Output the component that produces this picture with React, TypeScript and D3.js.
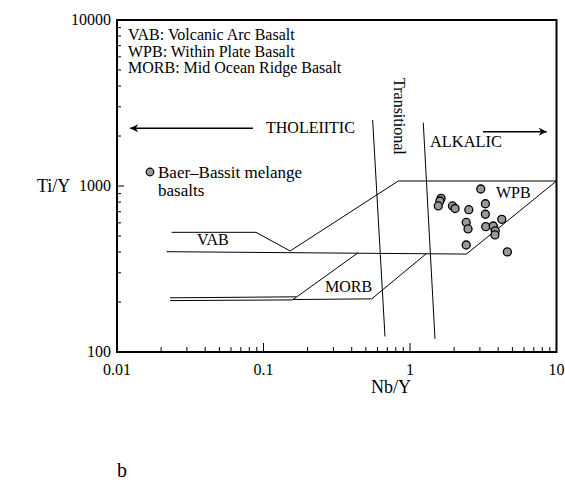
import { useEffect, useRef } from 'react'
import * as d3 from 'd3'

// Baer-Bassit melange basalts, Nb/Y vs Ti/Y
const NB_Y = [3.04, 1.63, 1.60, 1.56, 1.95, 2.03, 2.52, 3.27, 3.27, 2.42, 2.49, 3.29, 3.70, 4.23, 3.82, 3.80, 2.42, 4.62]
const TI_Y = [959, 843, 812, 758, 758, 732, 720, 782, 676, 603, 551, 569, 574, 630, 537, 507, 441, 401]

// field boundaries (Nb/Y, Ti/Y)
const VAB_UPPER: [number, number][] = [[0.0236, 526], [0.0889, 526], [0.152, 406], [0.832, 1072], [10, 1072], [2.43, 389]]
const VAB_LOWER: [number, number][] = [[0.0218, 402], [2.43, 389]]
const MORB_FIELD: [number, number][] = [[0.442, 396], [0.159, 207], [0.548, 209], [1.30, 393]]
const MORB_BASE_A: [number, number][] = [[0.023, 212], [0.167, 215]]
const MORB_BASE_B: [number, number][] = [[0.023, 204], [0.159, 206]]
const TRANS_LEFT: [number, number][] = [[0.556, 2498], [0.675, 124]]
const TRANS_RIGHT: [number, number][] = [[1.232, 2406], [1.481, 120]]

const X_TICKS = [0.01, 0.1, 1, 10]
const Y_TICKS = [100, 1000, 10000]
const KEY_LINES = ['VAB: Volcanic Arc Basalt', 'WPB: Within Plate Basalt', 'MORB: Mid Ocean Ridge Basalt']

export default function App() {
  const svgRef = useRef<SVGSVGElement>(null)

  useEffect(() => {
    if (!svgRef.current) return
    const svg = d3.select(svgRef.current)
    svg.selectAll('*').remove()

    const left = 117, right = 556.5, top = 20, bottom = 352
    const font = '"Liberation Serif", "Times New Roman", serif'

    const x = d3.scaleLog().domain([0.01, 10]).range([left, right])
    const y = d3.scaleLog().domain([100, 10000]).range([bottom, top])

    svg.append('defs').append('marker')
      .attr('id', 'head')
      .attr('viewBox', '0 0 10 10')
      .attr('refX', 10).attr('refY', 5)
      .attr('markerWidth', 13).attr('markerHeight', 8)
      .attr('markerUnits', 'userSpaceOnUse')
      .attr('orient', 'auto')
      .append('path').attr('d', 'M0,0 L10,5 L0,10 L3,5 Z').attr('fill', '#000')

    const g = svg.append('g')

    // minor ticks
    const xMinor: number[] = []
    const yMinor: number[] = []
    for (let e = -2; e < 1; e++) for (let m = 2; m <= 9; m++) xMinor.push(m * Math.pow(10, e))
    for (let e = 2; e < 4; e++) for (let m = 2; m <= 9; m++) yMinor.push(m * Math.pow(10, e))

    g.selectAll('.xminor').data(xMinor).enter().append('line')
      .attr('x1', (d) => x(d)).attr('x2', (d) => x(d))
      .attr('y1', bottom).attr('y2', bottom - 5)
      .attr('stroke', '#000').attr('stroke-width', 1)
    g.selectAll('.xmajor').data(X_TICKS).enter().append('line')
      .attr('x1', (d) => x(d)).attr('x2', (d) => x(d))
      .attr('y1', bottom).attr('y2', bottom - 9)
      .attr('stroke', '#000').attr('stroke-width', 1)
    g.selectAll('.yminor').data(yMinor).enter().append('line')
      .attr('x1', left).attr('x2', left + 4)
      .attr('y1', (d) => y(d)).attr('y2', (d) => y(d))
      .attr('stroke', '#000').attr('stroke-width', 1)
    g.selectAll('.ymajor').data(Y_TICKS).enter().append('line')
      .attr('x1', left).attr('x2', left + 7)
      .attr('y1', (d) => y(d)).attr('y2', (d) => y(d))
      .attr('stroke', '#000').attr('stroke-width', 1)

    // tick labels
    g.selectAll('.xlab').data(X_TICKS).enter().append('text')
      .attr('x', (d) => x(d)).attr('y', 375)
      .attr('text-anchor', 'middle')
      .attr('font-family', font).attr('font-size', 16)
      .text((d) => String(d))
    g.selectAll('.ylab').data(Y_TICKS).enter().append('text')
      .attr('x', left - 6).attr('y', (d) => y(d) + 5)
      .attr('text-anchor', 'end')
      .attr('font-family', font).attr('font-size', 16)
      .text((d) => String(d))

    // frame
    g.append('rect')
      .attr('x', left).attr('y', top)
      .attr('width', right - left).attr('height', bottom - top)
      .attr('fill', 'none').attr('stroke', '#000').attr('stroke-width', 2)

    // field lines
    const line = d3.line<[number, number]>().x((d) => x(d[0])).y((d) => y(d[1]))
    const paths = [VAB_UPPER, VAB_LOWER, MORB_FIELD, MORB_BASE_A, MORB_BASE_B, TRANS_LEFT, TRANS_RIGHT]
    g.selectAll('.field').data(paths).enter().append('path')
      .attr('d', (d) => line(d))
      .attr('fill', 'none').attr('stroke', '#000').attr('stroke-width', 1)

    // arrows
    g.append('line')
      .attr('x1', x(0.0848)).attr('x2', x(0.0123))
      .attr('y1', y(2226)).attr('y2', y(2226))
      .attr('stroke', '#000').attr('stroke-width', 1.5)
      .attr('marker-end', 'url(#head)')
    g.append('line')
      .attr('x1', x(3.15)).attr('x2', x(8.57))
      .attr('y1', y(2124)).attr('y2', y(2124))
      .attr('stroke', '#000').attr('stroke-width', 1.5)
      .attr('marker-end', 'url(#head)')

    const label = (tx: number, ty: number, t: string, size = 16) =>
      g.append('text').attr('x', tx).attr('y', ty)
        .attr('font-family', font).attr('font-size', size).text(t)

    KEY_LINES.forEach((t, i) => label(128, 40 + i * 16.5, t, 16))
    label(266, 133, 'THOLEIITIC')
    label(430, 147, 'ALKALIC', 16.4)
    label(197, 245, 'VAB')
    label(325, 292, 'MORB')
    label(496, 198, 'WPB')
    label(158, 178, 'Baer–Bassit melange', 17)
    label(158, 196, 'basalts', 17)
    g.append('text')
      .attr('transform', 'translate(394,78) rotate(90)')
      .attr('font-family', font).attr('font-size', 16)
      .text('Transitional')

    // legend marker
    g.append('circle')
      .attr('cx', 150).attr('cy', 172).attr('r', 3.8)
      .attr('fill', '#999').attr('stroke', '#000').attr('stroke-width', 1.2)

    // data points
    g.selectAll('.pt').data(NB_Y.map((v, i) => [v, TI_Y[i]])).enter().append('circle')
      .attr('cx', (d) => x(d[0])).attr('cy', (d) => y(d[1]))
      .attr('r', 4)
      .attr('fill', '#999').attr('stroke', '#000').attr('stroke-width', 1.3)

    // axis titles
    label(37, 192, 'Ti/Y', 18)
    g.append('text').attr('x', 391).attr('y', 393)
      .attr('text-anchor', 'middle')
      .attr('font-family', font).attr('font-size', 18)
      .text('Nb/Y')
    label(117, 477, 'b', 20)
  }, [])

  return (
    <svg
      ref={svgRef}
      width={565}
      height={483}
      style={{ position: 'absolute', left: 0, top: 0, background: '#fff' }}
    />
  )
}
